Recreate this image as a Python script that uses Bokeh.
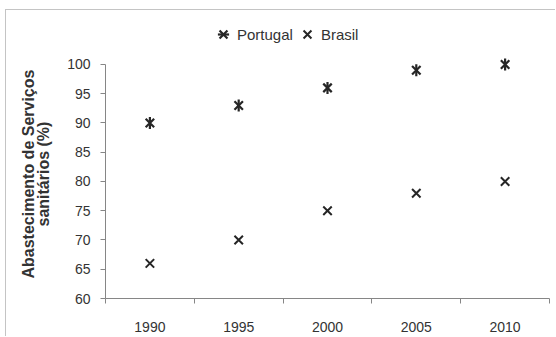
from bokeh.plotting import figure
from bokeh.models import (Range1d, FixedTicker, Legend, LegendItem, ColumnDataSource)
from bokeh.embed import file_html
from bokeh.resources import INLINE
import math

years = [1990, 1995, 2000, 2005, 2010]
portugal = [90, 93, 96, 99, 100]
brasil = [66, 70, 75, 78, 80]
y_ticks = [60, 65, 70, 75, 80, 85, 90, 95, 100]
y_label_lines = ["Abastecimento de Serviços", "sanitários (%)"]

FONT = "Liberation Sans"
AXIS_COLOR = "#868686"
TEXT_COLOR = "#333333"
MARK = "#262626"

# frame is extended above 100 so the legend and the top markers are not clipped;
# the axis line itself is bounded to 60..100
p = figure(width=550, height=327, output_backend="svg", toolbar_location=None,
           x_range=Range1d(1987.5, 2012.5), y_range=Range1d(60, 107.86),
           min_border_left=99, min_border_right=7, min_border_bottom=39, min_border_top=8)
p.styles = {"margin-left": "5px", "margin-top": "9px",
            "border-left": "1px solid #c4c4c4", "border-top": "1px solid #c4c4c4"}
p.outline_line_color = None
p.xgrid.visible = False
p.ygrid.visible = False

src = ColumnDataSource(dict(year=years, portugal=portugal, brasil=brasil))
r1 = p.scatter("year", "portugal", source=src, marker="x", size=12, line_width=2.2, line_color=MARK)
r2 = p.scatter("year", "portugal", source=src, marker="dash", size=12, angle=math.pi / 2,
               line_width=2.2, line_color=MARK)
r3 = p.scatter("year", "brasil", source=src, marker="x", size=12, line_width=2, line_color=MARK)

# x axis: labels at categories, tick marks between categories
edges = [years[0] - 2.5] + [y + 2.5 for y in years]
p.xaxis.ticker = FixedTicker(ticks=years, minor_ticks=edges)
p.xaxis.major_tick_line_color = None
p.xaxis.minor_tick_line_color = AXIS_COLOR
p.xaxis.minor_tick_out = 5
p.xaxis.minor_tick_in = 0
p.xaxis.axis_line_color = AXIS_COLOR
p.xaxis.major_label_standoff = 17
p.xaxis.major_label_text_font = FONT
p.xaxis.major_label_text_font_size = "14px"
p.xaxis.major_label_text_color = TEXT_COLOR

p.yaxis.ticker = FixedTicker(ticks=y_ticks)
p.yaxis.bounds = (60, 100)
p.yaxis.minor_tick_line_color = None
p.yaxis.major_tick_line_color = AXIS_COLOR
p.yaxis.major_tick_out = 5
p.yaxis.major_tick_in = 0
p.yaxis.axis_line_color = AXIS_COLOR
p.yaxis.major_label_standoff = 10
p.yaxis.major_label_text_font = FONT
p.yaxis.major_label_text_font_size = "14px"
p.yaxis.major_label_text_color = TEXT_COLOR

# trailing no-break spaces keep the title centred on the 60..100 part of the axis
pad = "\u00a0" * 7
p.yaxis.axis_label = "\n".join(line + pad for line in y_label_lines)
p.yaxis.axis_label_text_font = FONT
p.yaxis.axis_label_text_font_size = "16px"
p.yaxis.axis_label_text_font_style = "bold"
p.yaxis.axis_label_text_color = TEXT_COLOR
p.yaxis.axis_label_text_line_height = 0.9
p.yaxis.axis_label_standoff = 12

legend = Legend(items=[LegendItem(label="Portugal", renderers=[r1, r2]),
                       LegendItem(label="Brasil", renderers=[r3])],
                orientation="horizontal", location=(104, 250),
                label_text_font=FONT, label_text_font_size="15px", label_text_color=TEXT_COLOR,
                glyph_width=28, glyph_height=28, label_standoff=0, spacing=-5,
                padding=0, margin=0, border_line_color=None, background_fill_alpha=0)
p.add_layout(legend, "center")

open("out.html", "w").write(file_html(p, INLINE))
